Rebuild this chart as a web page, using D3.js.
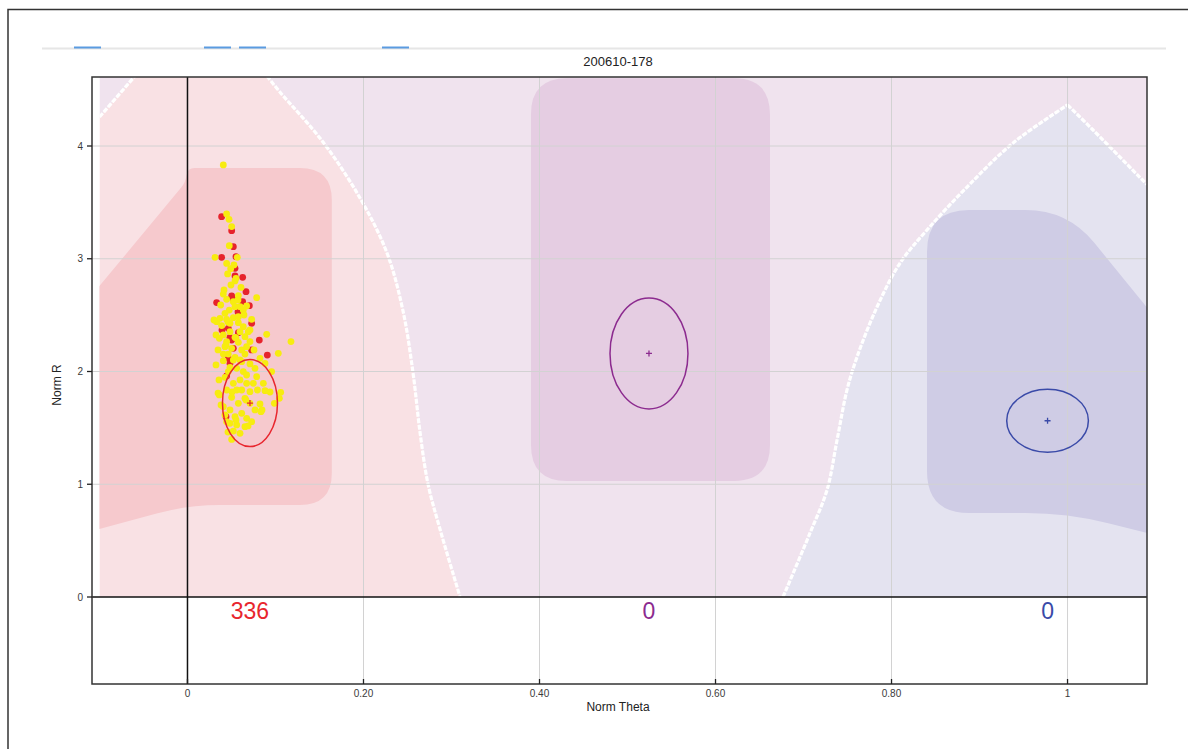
<!DOCTYPE html>
<html><head><meta charset="utf-8">
<script src="https://cdn.jsdelivr.net/npm/d3@7"></script>
<style>body{margin:0;background:#fff}svg{display:block}text{font-family:"Liberation Sans",Arial,sans-serif}</style>
</head><body><svg id="c" width="1188" height="749"></svg>
<script>
// ---------- data ----------
const title = "200610-178";
const xLabel = "Norm Theta";
const yLabel = "Norm R";
const xTicks = [0, 0.2, 0.4, 0.6, 0.8, 1];
const xTickLabels = ["0", "0.20", "0.40", "0.60", "0.80", "1"];
const yTicks = [0, 1, 2, 3, 4];
const yTickLabels = ["0", "1", "2", "3", "4"];

const classNames = ["A", "B", "C"];
const classCounts = [336, 0, 0];
const classCenters = [[0.071, 1.72], [0.5244, 2.160], [0.9773, 1.563]];
const classSpread = [[0.03125, 0.386], [0.0443, 0.492], [0.0464, 0.279]];

// decision-map boundaries [theta, r]
const boundaryCorner = [[-0.1, 4.257], [-0.0597, 4.62]];
const boundaryPinkPurple = [[0.0903, 4.62], [0.105, 4.479], [0.154, 4.035], [0.196, 3.539], [0.2267, 3.051], [0.2449, 2.537], [0.2563, 1.987], [0.2642, 1.463], [0.2733, 1.002], [0.2869, 0.603], [0.3063, 0.089], [0.3097, 0]];
const boundaryPurpleBlue = [[0.6767, 0], [0.7074, 0.568], [0.7267, 0.949], [0.7381, 1.392], [0.7494, 1.836], [0.7608, 2.129], [0.7835, 2.572], [0.8097, 2.962], [0.8403, 3.255], [0.8858, 3.636], [0.9381, 4.027], [1.0, 4.364]];
const boundaryBlueRight = [[1.0, 4.364], [1.029, 4.142], [1.09, 3.66]];
// core (high-confidence) zones
const coreA = [[-0.13, 0.539], [-0.13, 2.476], [-0.002, 3.68], [0, 3.805], [0.164, 3.805], [0.164, 0.815], [0, 0.815]];
const coreB = [[0.3903, 1.029], [0.3903, 4.60], [0.6619, 4.60], [0.6619, 1.029]];
const coreC = [[0.8403, 0.745], [0.8403, 3.432], [1.0, 3.432], [1.13, 2.189], [1.13, 0.489], [1.0, 0.745]];
const mapExtent = [[-0.1, 0], [1.0903, 4.62]];

// observed samples [theta, r]
const samplesYellow = [
[0.0407,3.832],[0.0445,3.397],[0.0472,3.350],[0.0502,3.285],[0.0475,3.116],[0.0313,3.013],[0.0566,3.013],[0.0445,2.959],[0.0491,2.912],[0.0528,2.945],
[0.0456,2.865],[0.0540,2.803],[0.0494,2.767],[0.0608,2.746],[0.0786,2.655],[0.0407,2.687],[0.0445,2.640],[0.0578,2.673],[0.0377,2.590],[0.0475,2.545],
[0.0672,2.581],[0.0540,2.575],[0.0331,2.442],[0.0388,2.407],[0.0445,2.463],[0.0521,2.477],[0.0578,2.433],[0.0634,2.398],[0.0729,2.463],[0.0691,2.353],
[0.0407,2.324],[0.0483,2.353],[0.0540,2.303],[0.0362,2.294],[0.0426,2.220],[0.0578,2.259],[0.0672,2.220],[0.0756,2.191],[0.0464,2.155],[0.0540,2.126],
[0.0616,2.087],[0.0710,2.067],[0.0407,2.096],[0.0483,2.037],[0.0767,2.028],[0.0900,2.330],[0.1032,2.161],[0.1176,2.265],[0.0881,2.072],[0.0956,1.999],
[0.0426,1.948],[0.0521,1.895],[0.0597,1.925],[0.0672,1.969],[0.0748,1.895],[0.0445,1.836],[0.0362,1.792],[0.0502,1.771],[0.0578,1.718],[0.0653,1.762],
[0.0710,1.821],[0.0794,1.836],[0.0881,1.830],[0.1059,1.815],[0.1044,1.762],[0.0987,1.718],[0.0824,1.712],[0.0483,1.659],[0.0540,1.599],[0.0616,1.629],
[0.0672,1.585],[0.0445,1.555],[0.0559,1.526],[0.0835,1.644],[0.0521,1.472],[0.0502,1.398],[0.0634,2.545],[0.0597,2.353],[0.0502,2.206],[0.0653,2.155],
[0.0559,2.028],[0.0634,1.999],[0.0464,1.999],[0.0710,1.718],[0.0767,1.659],[0.0407,1.688],[0.0616,1.836],[0.0559,1.836],[0.0672,1.895],[0.0369,2.472],
[0.0426,2.516],[0.0521,2.619],[0.0578,2.486],[0.0483,2.427],[0.0653,2.309],[0.0445,2.265],[0.0710,2.265],[0.0616,2.191],[0.0521,2.102],[0.0786,1.954],
[0.0862,1.895],[0.0729,1.555],[0.0653,1.511],[0.0597,1.452],[0.0483,1.540],[0.0426,1.614],[0.0551,2.826],[0.0597,2.575],[0.0407,2.155],[0.0824,2.117],
[0.0301,2.457],[0.0324,2.324],[0.0347,2.191],[0.0324,2.058],[0.0358,1.925],[0.0347,1.809],[0.0381,1.703],[0.0415,2.723],[0.0574,2.634],[0.0642,2.501],
[0.0460,2.439],[0.0551,2.297],[0.0710,2.368],[0.0438,2.235],[0.0597,2.102],[0.0506,1.818],[0.0665,1.747],[0.0847,1.659],[0.0551,1.570],[0.0460,1.463],
[0.0688,1.517],[0.0938,1.818]
];
const samplesRed = [
[0.0388,3.373],[0.0502,3.249],[0.0521,3.107],[0.0388,3.013],[0.0551,3.018],[0.0540,2.915],[0.0540,2.847],[0.0627,2.835],[0.0665,2.708],[0.0502,2.670],
[0.0331,2.611],[0.0627,2.619],[0.0703,2.584],[0.0729,2.427],[0.0483,2.303],[0.0816,2.279],[0.0464,2.117],[0.0907,2.146],[0.0445,1.960],[0.0521,2.206],
[0.0729,2.191],[0.0438,1.599],[0.0502,2.279],[0.0464,2.383],[0.0578,2.344],[0.0483,2.072],[0.0521,2.634],[0.0392,2.368],[0.0574,2.528]
];

// ---------- styles ----------
const outerColors = {A: "#f9e1e4", B: "#f0e3ee", C: "#e4e3f0"};
const coreColors = {A: "#f6c9cd", B: "#e5cde2", C: "#cfcce5"};
const classColors = ["#e8262e", "#8c2b8f", "#3a4aa8"];

// ---------- layout ----------
const svg = d3.select("#c");
const L = 92, R = 1147, T = 77, B = 684;
const x = d3.scaleLinear().domain([-0.1085, 1.0903]).range([L, R]);
const y = d3.scaleLinear().domain([-0.7716, 4.612]).range([B, T]);

svg.append("rect").attr("width", 1188).attr("height", 749).attr("fill", "#fff");
// outer frame
svg.append("path").attr("d", "M8,749V9.5H1188").attr("fill", "none").attr("stroke", "#333").attr("stroke-width", 1.5);
// tab strip
svg.append("line").attr("x1", 42).attr("x2", 1166).attr("y1", 48.5).attr("y2", 48.5).attr("stroke", "#e6e6e6").attr("stroke-width", 2);
[[74, 101], [204, 231], [239, 266], [382, 409]].forEach(s => {
  svg.append("line").attr("x1", s[0]).attr("x2", s[1]).attr("y1", 47.5).attr("y2", 47.5).attr("stroke", "#5a9be0").attr("stroke-width", 2);
});

svg.append("text").attr("x", 618).attr("y", 66).attr("text-anchor", "middle").attr("font-size", 13).attr("fill", "#222").text(title);

const defs = svg.append("defs");
defs.append("clipPath").attr("id", "plotClip").append("rect").attr("x", L).attr("y", T).attr("width", R - L).attr("height", B - T);
defs.append("clipPath").attr("id", "mapClip").append("rect")
  .attr("x", x(mapExtent[0][0])).attr("y", y(mapExtent[1][1]))
  .attr("width", x(mapExtent[1][0]) - x(mapExtent[0][0])).attr("height", y(mapExtent[0][1]) - y(mapExtent[1][1]));

const plot = svg.append("g").attr("clip-path", "url(#plotClip)");
const map = plot.append("g").attr("clip-path", "url(#mapClip)");

const px = p => [x(p[0]), y(p[1])];
const pt = p => px(p).join(",");
const curved = d3.line().x(d => x(d[0])).y(d => y(d[1])).curve(d3.curveCatmullRom.alpha(0.5));
const straight = d3.line().x(d => x(d[0])).y(d => y(d[1]));
const cont = s => "L" + s.slice(1);

function roundedPath(pts, Rad) {
  const P = pts.map(px), n = P.length;
  let d = "";
  for (let i = 0; i < n; i++) {
    const p = P[i], a = P[(i - 1 + n) % n], b = P[(i + 1) % n];
    const v1 = [a[0] - p[0], a[1] - p[1]], v2 = [b[0] - p[0], b[1] - p[1]];
    const l1 = Math.hypot(v1[0], v1[1]), l2 = Math.hypot(v2[0], v2[1]);
    const r = Math.min(Rad, l1 / 2, l2 / 2);
    const s = [p[0] + v1[0] / l1 * r, p[1] + v1[1] / l1 * r];
    const e = [p[0] + v2[0] / l2 * r, p[1] + v2[1] / l2 * r];
    d += (i === 0 ? "M" : "L") + s.join(",") + "Q" + p.join(",") + " " + e.join(",");
  }
  return d + "Z";
}

const mTop = mapExtent[1][1], mRight = mapExtent[1][0], mLeft = mapExtent[0][0];
const cPP = curved(boundaryPinkPurple), cPB = curved(boundaryPurpleBlue), cBR = curved(boundaryBlueRight), cCorner = straight(boundaryCorner);

const regionA = "M" + pt([mLeft, 0]) + cont(cCorner) + cont(cPP) + "Z";
const regionB1 = cCorner + "L" + pt([mLeft, mTop]) + "Z";
const regionB2 = cPP + cont(cPB) + cont(cBR) + "L" + pt([mRight, mTop]) + "Z";
const regionC = cPB + cont(cBR) + "L" + pt([mRight, 0]) + "Z";

map.append("path").attr("d", regionA).attr("fill", outerColors.A);
map.append("path").attr("d", regionB1).attr("fill", outerColors.B);
map.append("path").attr("d", regionB2).attr("fill", outerColors.B);
map.append("path").attr("d", regionC).attr("fill", outerColors.C);

map.append("path").attr("d", roundedPath(coreA, 32)).attr("fill", coreColors.A);
map.append("path").attr("d", roundedPath(coreB, 36)).attr("fill", coreColors.B);
map.append("path").attr("d", roundedPath(coreC, 42)).attr("fill", coreColors.C);

[cCorner, cPP, cPB, cBR].forEach(d => {
  map.append("path").attr("d", d).attr("fill", "none").attr("stroke", "#fff").attr("stroke-width", 3.2).attr("stroke-dasharray", "5,1.5");
});

// grid
xTicks.filter(v => v !== 0).forEach(v => {
  plot.append("line").attr("x1", x(v)).attr("x2", x(v)).attr("y1", T).attr("y2", B).attr("stroke", "#d2d2d2").attr("stroke-width", 1);
});
yTicks.filter(v => v !== 0).forEach(v => {
  plot.append("line").attr("x1", L).attr("x2", R).attr("y1", y(v)).attr("y2", y(v)).attr("stroke", "#d2d2d2").attr("stroke-width", 1);
});

// samples
plot.selectAll("circle.red").data(samplesRed).join("circle").attr("class", "red")
  .attr("cx", d => x(d[0])).attr("cy", d => y(d[1])).attr("r", 3.4).attr("fill", "#e6232b");
plot.selectAll("circle.yel").data(samplesYellow).join("circle").attr("class", "yel")
  .attr("cx", d => x(d[0])).attr("cy", d => y(d[1])).attr("r", 3.4).attr("fill", "#f7ec10");

// class ellipses + centers + counts
classNames.forEach((c, i) => {
  const [cx, cy] = px(classCenters[i]);
  const rx = x(classCenters[i][0] + classSpread[i][0]) - cx;
  const ry = cy - y(classCenters[i][1] + classSpread[i][1]);
  plot.append("ellipse").attr("cx", cx).attr("cy", cy).attr("rx", rx).attr("ry", ry)
    .attr("fill", "none").attr("stroke", classColors[i]).attr("stroke-width", 1.5);
  plot.append("path").attr("d", `M${cx - 3},${cy}H${cx + 3}M${cx},${cy - 3}V${cy + 3}`).attr("stroke", classColors[i]).attr("stroke-width", 1.3);
  svg.append("text").attr("x", cx).attr("y", y(-0.195)).attr("text-anchor", "middle")
    .attr("font-size", 23).attr("fill", classColors[i]).text(classCounts[i]);
});

// zero axes
svg.append("line").attr("x1", x(0)).attr("x2", x(0)).attr("y1", T).attr("y2", B).attr("stroke", "#111").attr("stroke-width", 1.5);
svg.append("line").attr("x1", L).attr("x2", R).attr("y1", y(0)).attr("y2", y(0)).attr("stroke", "#111").attr("stroke-width", 1.5);

// frame
svg.append("rect").attr("x", L).attr("y", T).attr("width", R - L).attr("height", B - T)
  .attr("fill", "none").attr("stroke", "#333").attr("stroke-width", 1.5);

// axes ticks + labels
xTicks.forEach((v, i) => {
  svg.append("line").attr("x1", x(v)).attr("x2", x(v)).attr("y1", B).attr("y2", B - 5).attr("stroke", "#222").attr("stroke-width", 1.3);
  svg.append("text").attr("x", x(v)).attr("y", B + 12.5).attr("text-anchor", "middle").attr("font-size", 10).attr("fill", "#3a3a3a").text(xTickLabels[i]);
});
yTicks.forEach((v, i) => {
  svg.append("line").attr("x1", L - 5).attr("x2", L).attr("y1", y(v)).attr("y2", y(v)).attr("stroke", "#222").attr("stroke-width", 1.3);
  svg.append("text").attr("x", L - 9).attr("y", y(v) + 3.5).attr("text-anchor", "end").attr("font-size", 10).attr("fill", "#3a3a3a").text(yTickLabels[i]);
});
svg.append("text").attr("x", 618).attr("y", 711).attr("text-anchor", "middle").attr("font-size", 12).attr("fill", "#222").text(xLabel);
svg.append("text").attr("transform", "translate(61,385) rotate(-90)").attr("text-anchor", "middle").attr("font-size", 12).attr("fill", "#222").text(yLabel);
</script></body></html>
